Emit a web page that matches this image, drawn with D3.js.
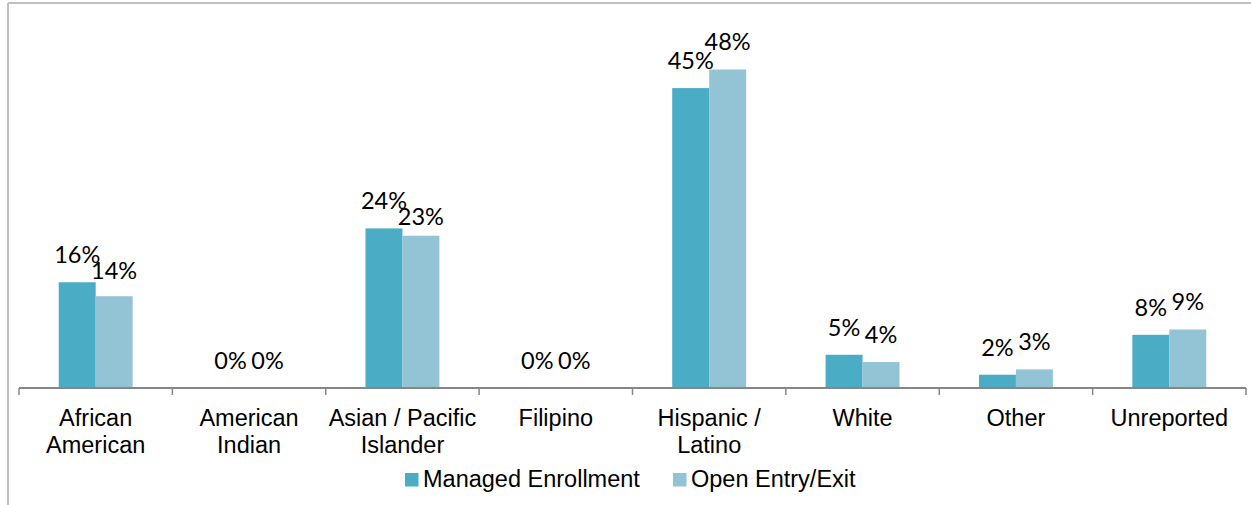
<!DOCTYPE html>
<html>
<head>
<meta charset="utf-8">
<script src="https://cdn.jsdelivr.net/npm/d3@7"></script>
<style>
  html, body { margin: 0; padding: 0; background: #fff; }
  svg { display: block; }
</style>
</head>
<body>
<script>
const categories = [["African", "American"], ["American", "Indian"], ["Asian / Pacific", "Islander"], ["Filipino"], ["Hispanic /", "Latino"], ["White"], ["Other"], ["Unreported"]];
const seriesNames = ["Managed Enrollment", "Open Entry/Exit"];
const managed = [15.9, 0, 24.0, 0, 45.1, 5.0, 2.0, 8.0];
const openEntry = [13.8, 0, 22.9, 0, 47.9, 3.9, 2.8, 8.8];
const colors = ["#4BACC6", "#93C4D5"];

const W = 1251, H = 505;
const svg = d3.select("body").append("svg").attr("width", W).attr("height", H);

// chart border (top and left visible)
svg.append("line").attr("x1", 8).attr("y1", 3).attr("x2", W).attr("y2", 3)
  .attr("stroke", "#c0c0c0").attr("stroke-width", 2);
svg.append("line").attr("x1", 8).attr("y1", 3).attr("x2", 8).attr("y2", H)
  .attr("stroke", "#c0c0c0").attr("stroke-width", 2);

const x0 = d3.scaleBand().domain(d3.range(categories.length)).range([19, 1246]).padding(0);
const y = d3.scaleLinear().domain([0, 50]).range([388, 55.5]);
const barW = x0.bandwidth() * 0.241;
const x1 = d3.scaleBand().domain([0, 1]).range([-barW, barW]).padding(0);

const series = [managed, openEntry];
const fmt = v => Math.round(v) + "%";

series.forEach((vals, si) => {
  const g = svg.append("g");
  g.selectAll("rect").data(vals).join("rect")
    .attr("x", (d, i) => x0(i) + x0.bandwidth() / 2 + x1(si))
    .attr("width", x1.bandwidth())
    .attr("y", d => y(d))
    .attr("height", d => y(0) - y(d))
    .attr("fill", colors[si]);
});

const labelSel = series.map((vals, si) =>
  svg.append("g").selectAll("text").data(vals).join("text")
    .attr("x", (d, i) => x0(i) + x0.bandwidth() / 2 + x1(si) + x1.bandwidth() / 2)
    .attr("y", d => y(d) - 19)
    .attr("text-anchor", "middle")
    .attr("font-family", "Lato, 'Liberation Sans', sans-serif")
    .attr("font-size", 23.5)
    .attr("fill", "#000")
    .text(d => fmt(d))
);

// simple label nudge: if the second label collides with the first, push it down a bit
const first = labelSel[0].nodes(), second = labelSel[1].nodes();
second.forEach((node, i) => {
  const a = first[i];
  const ax = +a.getAttribute("x"), ay = +a.getAttribute("y");
  const bx = +node.getAttribute("x"), by = +node.getAttribute("y");
  const aw = a.getComputedTextLength(), bw = node.getComputedTextLength();
  const hOverlap = (ax + aw / 2) > (bx - bw / 2) + 2;
  if (hOverlap && by >= ay - 16 && by < ay + 16) {
    node.setAttribute("y", ay + 16);
  }
});

// axis line and ticks
const axisG = svg.append("g");
axisG.append("line").attr("x1", x0.range()[0]).attr("x2", x0.range()[1])
  .attr("y1", y(0)).attr("y2", y(0)).attr("stroke", "#868686").attr("stroke-width", 2);
const tickPos = d3.range(categories.length + 1).map(i => x0.range()[0] + i * x0.step());
axisG.selectAll("line.tick").data(tickPos).join("line").attr("class", "tick")
  .attr("x1", d => d).attr("x2", d => d)
  .attr("y1", y(0)).attr("y2", y(0) + 7)
  .attr("stroke", "#868686").attr("stroke-width", 1.5);

// category labels
const catG = svg.append("g");
categories.forEach((lines, i) => {
  const t = catG.append("text")
    .attr("x", x0(i) + x0.bandwidth() / 2)
    .attr("y", 425.5)
    .attr("text-anchor", "middle")
    .attr("font-family", "'Liberation Sans', Arial, sans-serif")
    .attr("font-size", 23.5)
    .attr("fill", "#000");
  lines.forEach((ln, j) => {
    t.append("tspan").attr("x", x0(i) + x0.bandwidth() / 2).attr("dy", j === 0 ? 0 : 27.8).text(ln);
  });
});

// legend
const legendX = [405, 673];
seriesNames.forEach((name, si) => {
  svg.append("rect").attr("x", legendX[si]).attr("y", 473).attr("width", 13.5).attr("height", 13.5)
    .attr("fill", colors[si]);
  svg.append("text").attr("x", legendX[si] + 18).attr("y", 487)
    .attr("font-family", "'Liberation Sans', Arial, sans-serif")
    .attr("font-size", 23.5).attr("fill", "#000").text(name);
});
</script>
</body>
</html>
